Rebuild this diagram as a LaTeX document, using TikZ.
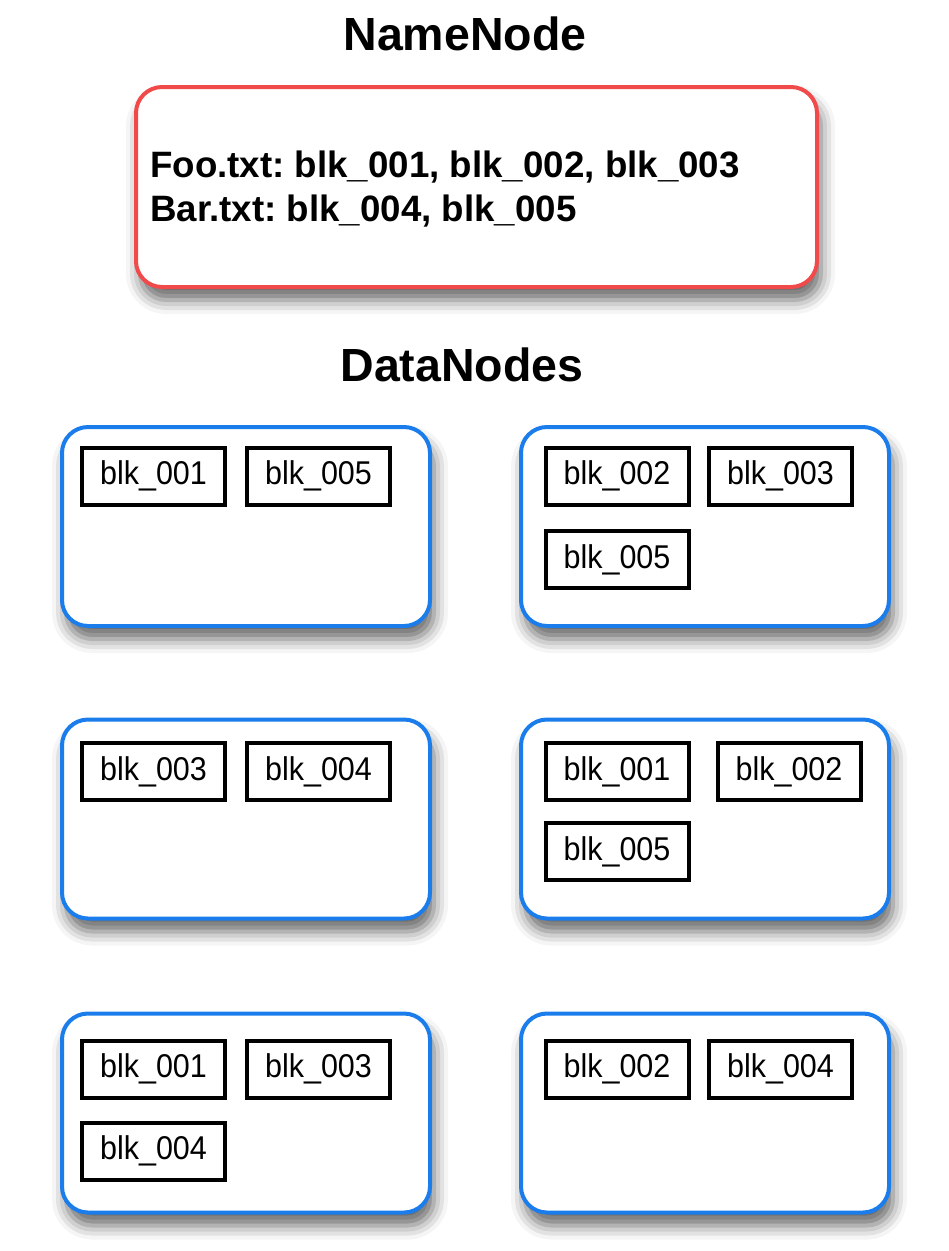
\documentclass[tikz,border=0pt]{standalone}
\usepackage{fontspec}
\setmainfont{Liberation Sans}
\usetikzlibrary{shadows.blur}
\definecolor{nnred}{HTML}{F04A4A}
\definecolor{dnblue}{HTML}{1A7DEB}
\newcommand{\vstretch}[1]{\raisebox{-1.5pt}{\scalebox{1}[1.08]{#1}}}
\begin{document}
\frenchspacing
\begin{tikzpicture}[x=1pt,y=-1pt,
  title/.style={font=\fontsize{46.5}{50}\selectfont\bfseries, inner sep=0pt},
  softshadow/.style={blur shadow={shadow xshift=4pt, shadow yshift=-13pt, shadow blur radius=14pt, shadow opacity=60}},
  nnbox/.style={draw=nnred, line width=4pt, rounded corners=26pt, fill=white,
    minimum width=681pt, minimum height=200pt, inner sep=0pt, softshadow},
  dnbox/.style={draw=dnblue, line width=4pt, rounded corners=26pt, fill=white,
    minimum width=368pt, minimum height=199pt, inner sep=0pt, softshadow},
  blkbox/.style={draw=black, line width=4pt, fill=white, minimum width=143pt,
    minimum height=57pt, inner sep=0pt, font=\fontsize{30.5}{34}\selectfont},
  nntext/.style={font=\fontsize{36.7}{44}\selectfont\bfseries, align=left, inner sep=0pt, anchor=west}
]
\useasboundingbox (0,0) rectangle (949,1251);
% NameNode
\node[title, anchor=base] (nntitle) at (465,50) {NameNode};
\node[nnbox] (nn) at (476.5,187) {};
\node[nntext] (nnt) at (150,189) {Foo.txt: blk\_001, blk\_002, blk\_003\\Bar.txt: blk\_004, blk\_005};
% DataNodes
\node[title, anchor=base] (dntitle) at (462,381) {DataNodes};
\node[dnbox] (d1) at (246,526.5) {};
\node[dnbox] (d2) at (705,526.5) {};
\node[dnbox] (d3) at (246,819) {};
\node[dnbox] (d4) at (705,819) {};
\node[dnbox] (d5) at (246,1113) {};
\node[dnbox] (d6) at (705,1113) {};
% blocks
\node[blkbox] (b11) at (153.5,476) {\vstretch{blk\_001}};
\node[blkbox] (b12) at (318.5,476) {\vstretch{blk\_005}};
\node[blkbox] (b21) at (617,476) {\vstretch{blk\_002}};
\node[blkbox] (b22) at (780.5,476) {\vstretch{blk\_003}};
\node[blkbox] (b23) at (617,559.5) {\vstretch{blk\_005}};
\node[blkbox] (b31) at (153.5,771.5) {\vstretch{blk\_003}};
\node[blkbox] (b32) at (318.5,771.5) {\vstretch{blk\_004}};
\node[blkbox] (b41) at (617,771.5) {\vstretch{blk\_001}};
\node[blkbox] (b42) at (789,771.5) {\vstretch{blk\_002}};
\node[blkbox] (b43) at (617,851.5) {\vstretch{blk\_005}};
\node[blkbox] (b51) at (153.5,1069) {\vstretch{blk\_001}};
\node[blkbox] (b52) at (318.5,1069) {\vstretch{blk\_003}};
\node[blkbox] (b53) at (153.5,1151) {\vstretch{blk\_004}};
\node[blkbox] (b61) at (617,1069) {\vstretch{blk\_002}};
\node[blkbox] (b62) at (780.5,1069) {\vstretch{blk\_004}};
\end{tikzpicture}
\end{document}
